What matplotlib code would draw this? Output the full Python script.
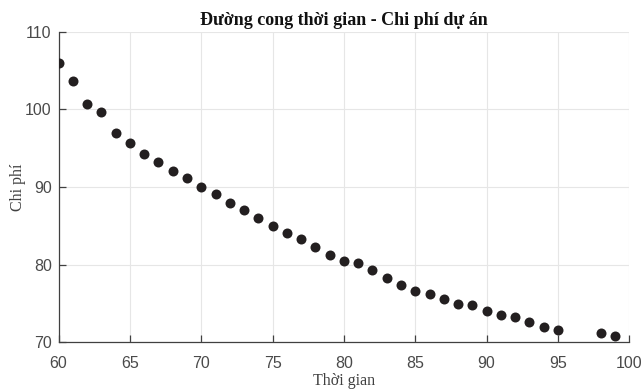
import matplotlib
matplotlib.use("Agg")
import matplotlib.pyplot as plt

thoi_gian = [60, 61, 62, 63, 64, 65, 66, 67, 68, 69, 70, 71, 72, 73, 74, 75, 76, 77, 78, 79,
             80, 81, 82, 83, 84, 85, 86, 87, 88, 89, 90, 91, 92, 93, 94, 95, 98, 99]
chi_phi = [105.9, 103.6, 100.7, 99.65, 96.9, 95.6, 94.25, 93.2, 92.05, 91.1, 90.0, 89.05,
           88.0, 87.05, 86.05, 85.0, 84.05, 83.3, 82.25, 81.2, 80.5, 80.25, 79.3, 78.3,
           77.45, 76.65, 76.25, 75.6, 75.0, 74.8, 74.0, 73.55, 73.3, 72.6, 72.0, 71.65,
           71.25, 70.85]
x_ticks = [60, 65, 70, 75, 80, 85, 90, 95, 100]
y_ticks = [70, 80, 90, 100, 110]

fig = plt.figure(figsize=(6.43, 3.9), dpi=100)
ax = fig.add_axes([0.0911, 0.122, 0.8876, 0.797])

ax.plot(thoi_gian, chi_phi, 'o', color='#231f20', markersize=7.2, markeredgewidth=0, zorder=3)

ax.set_xlim(60, 100)
ax.set_ylim(70, 110)
ax.set_xticks(x_ticks)
ax.set_yticks(y_ticks)
ax.grid(True, color='#e6e6e6', linewidth=0.8)
ax.set_axisbelow(True)
for s in ['top', 'right']:
    ax.spines[s].set_visible(False)
for s in ['left', 'bottom']:
    ax.spines[s].set_color('#404040')
    ax.spines[s].set_linewidth(0.9)
ax.tick_params(direction='in', length=5, width=0.9, color='#404040',
               labelcolor='#4a4a4a', labelsize=11.5)
ax.tick_params(axis='x', pad=10)
ax.tick_params(axis='y', pad=5)
for lbl in ax.get_xticklabels() + ax.get_yticklabels():
    lbl.set_family('Liberation Sans')

ax.set_title('Đường cong thời gian - Chi phí dự án', fontfamily='Liberation Serif',
             fontweight='bold', fontsize=13, color='#111111', pad=5)
ax.set_xlabel('Thời gian', fontfamily='Liberation Serif', fontsize=11.5, color='#404040', labelpad=1)
ax.set_ylabel('Chi phí', fontfamily='Liberation Serif', fontsize=11.5, color='#404040', labelpad=-0.5)

fig.savefig('out.png', dpi=100)
